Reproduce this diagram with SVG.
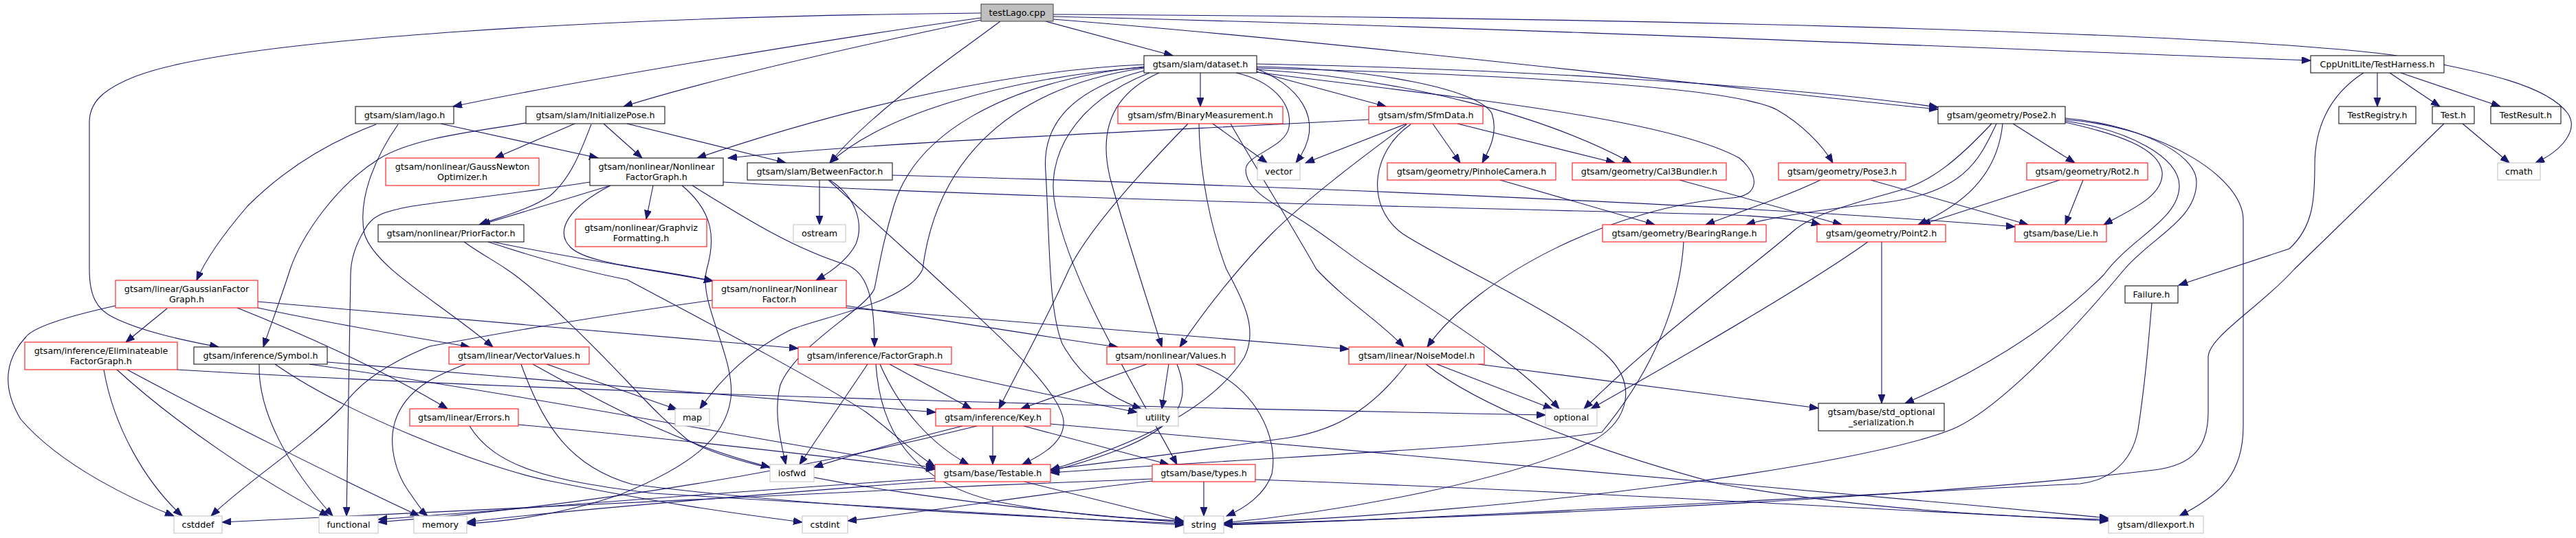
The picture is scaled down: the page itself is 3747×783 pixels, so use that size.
<svg xmlns="http://www.w3.org/2000/svg" width="3747" height="783" viewBox="0 0 3747 783">
<defs>
<style>
.n rect{fill:#fff;stroke:#000;stroke-width:1}
.n.r rect{stroke:#f00}
.n.g rect{stroke:#bfbfbf}
.n.root rect{fill:#bfbfbf;stroke:#404040}
text{font-family:"DejaVu Sans","Liberation Sans",sans-serif;font-size:12.7px;fill:#000;text-anchor:middle}
#edges path{fill:none;stroke:#191970;stroke-width:1.1;marker-end:url(#ah)}
</style>
<marker id="ah" markerUnits="userSpaceOnUse" markerWidth="14" markerHeight="11" refX="13" refY="5" orient="auto" viewBox="0 0 14 11">
<path d="M0,0 L13,5 L0,10 z" fill="#191970" stroke="#191970" stroke-width="1"/>
</marker>
</defs>
<rect width="3747" height="783" fill="#fff"/>
<g id="edges">
<path d="M1427,26 C1250,50 850,115 659,155"/>
<path d="M1427,29 C1280,60 1050,110 907,155"/>
<path d="M1521,31 L1706,81"/>
<path d="M1455,31 C1390,80 1270,160 1207,237"/>
<path d="M1427,19 C900,24 350,55 200,110 C148,130 130,150 130,178 L130,392 C130,430 140,450 165,462 C205,482 265,495 318,505"/>
<path d="M1532,28 C2000,65 2600,138 2819,159"/>
<path d="M1532,24 C2200,40 3000,75 3361,88"/>
<path d="M1532,21 C2300,25 3200,45 3480,80 C3620,105 3705,125 3735,165 C3752,190 3725,220 3688,237"/>
<path d="M641,180 L870,230"/>
<path d="M547,181 C470,210 410,250 360,300 C330,335 300,375 286,408"/>
<path d="M579,181 C545,230 520,290 530,340 C545,390 640,440 717,505"/>
<path d="M765,179 C700,190 600,200 550,232 C490,270 440,340 422,392 C410,430 395,470 383,505"/>
<path d="M836,180 L720,230"/>
<path d="M878,180 L934,230"/>
<path d="M912,180 L1143,237"/>
<path d="M860,181 C845,220 830,260 800,285 C770,305 730,315 697,327"/>
<path d="M1746,106 L1746,155"/>
<path d="M1664,94 C1480,102 1250,150 1014,230"/>
<path d="M1664,98 C1450,115 1280,170 1207,237"/>
<path d="M1827,104 L2016,155"/>
<path d="M1827,97 C2000,100 2150,130 2170,165 C2180,195 2165,220 2156,237"/>
<path d="M1827,101 C2050,115 2250,170 2373,237"/>
<path d="M1827,93 C2200,100 2600,125 2819,156"/>
<path d="M1827,99 C2250,110 2530,130 2585,160 C2620,180 2650,210 2666,237"/>
<path d="M1827,105 C2100,140 2420,170 2530,230 C2560,255 2560,285 2520,288 C2350,300 2150,400 2076,505"/>
<path d="M1686,106 C1610,140 1600,200 1615,260 C1640,350 1670,440 1690,505"/>
<path d="M1672,106 C1560,150 1520,230 1535,300 C1560,420 1650,560 1712,676"/>
<path d="M1664,103 C1560,130 1515,180 1521,250 C1527,350 1525,450 1545,500 C1575,555 1620,580 1660,595"/>
<path d="M1827,100 C1880,120 1935,170 1885,237"/>
<path d="M1664,99 C1450,130 1360,250 1342,392 C1320,440 1200,460 1150,480 C1090,510 1050,550 1018,595"/>
<path d="M1664,97 C1450,120 1330,200 1300,300 C1285,350 1280,380 1272,420 C1260,450 1160,500 1135,560 C1125,600 1135,640 1143,676"/>
<path d="M1798,106 C1850,118 1880,150 1875,185 C1870,215 1812,225 1812,247 C1812,275 1850,295 1875,310 C1920,335 1960,370 1995,392 C2080,450 2200,520 2268,595"/>
<path d="M1764,180 L1843,237"/>
<path d="M1790,180 C1830,250 1880,330 1915,392 C1960,440 2010,470 2042,505"/>
<path d="M1728,180 C1650,260 1580,340 1555,392 C1520,470 1480,540 1453,595"/>
<path d="M1744,180 C1745,250 1760,330 1784,392 C1810,440 1830,480 1810,520 C1760,600 1640,650 1528,684"/>
<path d="M1991,174 C1700,190 1300,205 1059,230"/>
<path d="M2046,180 L1899,237"/>
<path d="M2084,180 L2124,237"/>
<path d="M2120,180 L2349,237"/>
<path d="M2046,181 C1980,230 1900,290 1850,340 C1810,380 1760,440 1716,505"/>
<path d="M2052,181 C1995,220 1985,300 2040,340 C2100,380 2280,460 2340,520 C2380,560 2370,610 2320,640 C2200,700 1950,745 1780,761"/>
<path d="M2928,180 L3018,237"/>
<path d="M2913,180 C2905,260 2850,300 2790,327"/>
<path d="M2904,180 C2880,230 2860,280 2740,295 C2650,305 2580,315 2540,327"/>
<path d="M2897,180 C2850,230 2810,265 2760,278 C2700,295 2640,310 2610,335 C2560,380 2420,480 2304,595"/>
<path d="M3004,178 C3080,195 3140,215 3145,250 C3148,285 3100,305 3060,327"/>
<path d="M3004,176 C3100,190 3170,230 3170,270 C3170,320 3100,345 3060,400 C2980,480 2880,540 2771,587"/>
<path d="M3004,174 C3150,185 3263,260 3263,320 L3263,620 C3263,690 3230,720 3170,751"/>
<path d="M3004,172 C3100,180 3195,220 3195,265 C3195,320 3130,345 3090,392 C3000,500 2900,600 2839,625 C2700,680 2200,745 1780,762"/>
<path d="M3458,106 L3458,155"/>
<path d="M3476,106 L3549,155"/>
<path d="M3492,106 L3637,155"/>
<path d="M3438,106 C3385,140 3367,190 3367,240 C3367,290 3365,330 3330,362 L3169,415"/>
<path d="M3582,180 L3650,237"/>
<path d="M3555,180 L3337,392 C3290,445 3212,490 3212,520 L3212,600 C3212,660 3180,680 3125,685 C3000,700 2600,740 1780,763"/>
<path d="M3130,441 C3125,500 3120,560 3110,625 C3100,680 3060,700 3026,704 C2700,720 2100,755 1780,764"/>
<path d="M2996,262 L2795,327"/>
<path d="M3030,262 L3004,327"/>
<path d="M2648,262 C2600,285 2540,305 2481,327"/>
<path d="M2721,262 L2950,327"/>
<path d="M2182,262 L2407,327"/>
<path d="M2443,262 L2679,327"/>
<path d="M2737,352 L2737,587"/>
<path d="M2717,352 C2650,400 2500,490 2314,595"/>
<path d="M2449,352 C2445,420 2420,520 2330,629 C2200,650 1900,662 1528,688"/>
<path d="M950,270 L940,319"/>
<path d="M888,270 L700,327"/>
<path d="M858,265 C750,282 650,292 600,300 C555,308 540,315 530,335 C515,360 510,380 510,400 L504,751"/>
<path d="M888,270 C830,300 805,335 830,360 C855,385 950,390 1037,409"/>
<path d="M992,270 C1040,310 1040,350 1028,392 C1015,440 1070,520 1063,580 C1055,640 1000,680 904,719 C830,745 750,758 679,762"/>
<path d="M1007,270 C1080,315 1150,360 1230,385 C1260,395 1272,430 1272,505"/>
<path d="M1052,265 C1400,285 2000,300 2500,312 C2580,315 2620,320 2648,327"/>
<path d="M1192,262 L1192,327"/>
<path d="M1207,262 C1250,290 1255,330 1245,355 C1235,375 1215,392 1187,408"/>
<path d="M1298,255 C1700,265 2500,295 2931,330"/>
<path d="M1205,262 C1230,285 1280,330 1348,392 C1420,460 1540,560 1547,612 C1550,645 1510,665 1487,676"/>
<path d="M717,352 C800,370 900,385 1037,409"/>
<path d="M710,352 C780,375 850,395 912,407 C1050,480 1200,560 1260,600 C1300,630 1330,660 1360,679"/>
<path d="M675,352 C700,370 720,380 737,392 C780,420 860,500 916,559 C950,595 970,615 1000,640 C1100,700 1500,745 1722,760"/>
<path d="M243,449 L183,498"/>
<path d="M168,445 C100,460 50,475 38,490 C10,520 0,560 30,610 C90,680 200,730 253,751"/>
<path d="M375,439 C700,465 1000,492 1161,507"/>
<path d="M375,448 C500,475 600,490 683,505"/>
<path d="M345,448 C450,490 560,540 651,595"/>
<path d="M1036,437 C850,462 700,490 625,504 C560,530 520,560 498,592 C440,650 360,700 307,751"/>
<path d="M1231,445 C1400,470 1550,495 1626,505"/>
<path d="M1231,448 C1500,470 1800,495 1962,508"/>
<path d="M151,538 C165,620 210,700 265,751"/>
<path d="M170,538 C260,620 380,700 478,751"/>
<path d="M185,538 C300,600 500,700 610,751"/>
<path d="M258,538 C800,570 1500,590 2248,604"/>
<path d="M377,530 C375,600 420,680 484,751"/>
<path d="M476,527 C800,555 1100,580 1361,600"/>
<path d="M400,530 C500,600 700,680 800,700 C950,730 1050,745 1167,760"/>
<path d="M450,530 C800,580 1150,650 1360,681"/>
<path d="M677,530 C640,545 600,560 580,600 C560,640 575,690 598,720 C608,735 615,745 622,751"/>
<path d="M795,530 L985,596"/>
<path d="M775,530 C900,600 1000,650 1120,680"/>
<path d="M758,530 C790,620 830,680 920,705 C1200,740 1500,752 1722,762"/>
<path d="M683,620 C720,680 800,700 950,718 C1300,740 1550,752 1722,764"/>
<path d="M754,618 C1000,640 1200,665 1360,683"/>
<path d="M1294,530 L1413,595"/>
<path d="M1280,530 C1310,600 1360,650 1409,676"/>
<path d="M1274,530 C1280,620 1320,700 1450,730 C1550,750 1650,755 1722,758"/>
<path d="M1329,530 C1450,560 1550,580 1654,600"/>
<path d="M1262,530 L1163,676"/>
<path d="M1668,530 L1485,595"/>
<path d="M1700,530 L1690,595"/>
<path d="M1712,530 C1740,600 1700,640 1528,686"/>
<path d="M1740,530 C1830,560 1860,640 1850,690 C1840,720 1810,740 1784,751"/>
<path d="M1444,620 L1444,676"/>
<path d="M1400,620 C1300,645 1230,665 1184,680"/>
<path d="M1528,617 C1900,650 2500,700 3067,754"/>
<path d="M1489,620 L1700,676"/>
<path d="M1421,620 C1100,700 800,740 550,760"/>
<path d="M1490,701 L1722,759"/>
<path d="M1360,696 C1000,720 700,745 550,756"/>
<path d="M1360,700 C1100,720 800,745 679,760"/>
<path d="M1751,701 L1751,751"/>
<path d="M1676,697 C1200,715 700,740 323,760"/>
<path d="M1676,700 C1500,720 1350,745 1233,758"/>
<path d="M1826,698 C2300,715 2700,740 3067,758"/>
<path d="M2090,530 L2258,595"/>
<path d="M2046,530 C2000,590 1950,625 1875,637 C1750,655 1620,672 1528,683"/>
<path d="M2150,530 L2645,594"/>
<path d="M2074,530 C2150,590 2300,650 2500,704 C2700,740 2900,752 3067,756"/>
</g>
<g id="node-testLago" class="n root"><rect x="1427" y="6" width="105" height="25"/><text x="1479.5" y="23.3">testLago.cpp</text></g>
<g id="node-lago" class="n"><rect x="517" y="155" width="143" height="25"/><text x="588.5" y="172.3">gtsam/slam/lago.h</text></g>
<g id="node-InitializePose" class="n"><rect x="765" y="155" width="202" height="25"/><text x="866" y="172.3">gtsam/slam/InitializePose.h</text></g>
<g id="node-dataset" class="n"><rect x="1664" y="81" width="164" height="25"/><text x="1746" y="98.3">gtsam/slam/dataset.h</text></g>
<g id="node-BinaryMeasurement" class="n r"><rect x="1626" y="155" width="240" height="25"/><text x="1746" y="172.3">gtsam/sfm/BinaryMeasurement.h</text></g>
<g id="node-SfmData" class="n r"><rect x="1991" y="155" width="166" height="25"/><text x="2074" y="172.3">gtsam/sfm/SfmData.h</text></g>
<g id="node-Pose2" class="n"><rect x="2819" y="155" width="185" height="25"/><text x="2911.5" y="172.3">gtsam/geometry/Pose2.h</text></g>
<g id="node-TestHarness" class="n"><rect x="3361" y="81" width="194" height="25"/><text x="3458" y="98.3">CppUnitLite/TestHarness.h</text></g>
<g id="node-TestRegistry" class="n"><rect x="3402" y="155" width="112" height="25"/><text x="3458" y="172.3">TestRegistry.h</text></g>
<g id="node-Test" class="n"><rect x="3538" y="155" width="61" height="25"/><text x="3568.5" y="172.3">Test.h</text></g>
<g id="node-TestResult" class="n"><rect x="3623" y="155" width="102" height="25"/><text x="3674" y="172.3">TestResult.h</text></g>
<g id="node-cmath" class="n g"><rect x="3633" y="237" width="62" height="25"/><text x="3664" y="254.3">cmath</text></g>
<g id="node-Failure" class="n"><rect x="3091" y="416" width="77" height="25"/><text x="3129.5" y="433.3">Failure.h</text></g>
<g id="node-GaussNewton" class="n r"><rect x="561" y="230" width="223" height="40"/><text x="672.5" y="247">gtsam/nonlinear/GaussNewton</text><text x="672.5" y="262">Optimizer.h</text></g>
<g id="node-NonlinearFactorGraph" class="n"><rect x="858" y="230" width="194" height="40"/><text x="955" y="247">gtsam/nonlinear/Nonlinear</text><text x="955" y="262">FactorGraph.h</text></g>
<g id="node-BetweenFactor" class="n"><rect x="1087" y="237" width="211" height="25"/><text x="1192.5" y="254.3">gtsam/slam/BetweenFactor.h</text></g>
<g id="node-vector" class="n g"><rect x="1829" y="237" width="62" height="25"/><text x="1860" y="254.3">vector</text></g>
<g id="node-PinholeCamera" class="n r"><rect x="2018" y="237" width="245" height="25"/><text x="2140.5" y="254.3">gtsam/geometry/PinholeCamera.h</text></g>
<g id="node-Cal3Bundler" class="n r"><rect x="2287" y="237" width="224" height="25"/><text x="2399" y="254.3">gtsam/geometry/Cal3Bundler.h</text></g>
<g id="node-Pose3" class="n r"><rect x="2587" y="237" width="185" height="25"/><text x="2679.5" y="254.3">gtsam/geometry/Pose3.h</text></g>
<g id="node-Rot2" class="n r"><rect x="2948" y="237" width="176" height="25"/><text x="3036" y="254.3">gtsam/geometry/Rot2.h</text></g>
<g id="node-PriorFactor" class="n"><rect x="550" y="327" width="212" height="25"/><text x="656" y="344.3">gtsam/nonlinear/PriorFactor.h</text></g>
<g id="node-GraphvizFormatting" class="n r"><rect x="837" y="319" width="191" height="40"/><text x="932.5" y="336">gtsam/nonlinear/Graphviz</text><text x="932.5" y="351">Formatting.h</text></g>
<g id="node-ostream" class="n g"><rect x="1154" y="327" width="76" height="25"/><text x="1192" y="344.3">ostream</text></g>
<g id="node-BearingRange" class="n r"><rect x="2331" y="327" width="238" height="25"/><text x="2450" y="344.3">gtsam/geometry/BearingRange.h</text></g>
<g id="node-Point2" class="n r"><rect x="2643" y="327" width="187" height="25"/><text x="2736.5" y="344.3">gtsam/geometry/Point2.h</text></g>
<g id="node-Lie" class="n r"><rect x="2931" y="327" width="133" height="25"/><text x="2997.5" y="344.3">gtsam/base/Lie.h</text></g>
<g id="node-GaussianFactorGraph" class="n r"><rect x="168" y="408" width="207" height="40"/><text x="271.5" y="425">gtsam/linear/GaussianFactor</text><text x="271.5" y="440">Graph.h</text></g>
<g id="node-NonlinearFactor" class="n r"><rect x="1036" y="408" width="195" height="40"/><text x="1133.5" y="425">gtsam/nonlinear/Nonlinear</text><text x="1133.5" y="440">Factor.h</text></g>
<g id="node-EliminateableFactorGraph" class="n r"><rect x="36" y="498" width="222" height="40"/><text x="147" y="515">gtsam/inference/Eliminateable</text><text x="147" y="530">FactorGraph.h</text></g>
<g id="node-Symbol" class="n"><rect x="282" y="505" width="194" height="25"/><text x="379" y="522.3">gtsam/inference/Symbol.h</text></g>
<g id="node-VectorValues" class="n r"><rect x="653" y="505" width="204" height="25"/><text x="755" y="522.3">gtsam/linear/VectorValues.h</text></g>
<g id="node-FactorGraph" class="n r"><rect x="1161" y="505" width="223" height="25"/><text x="1272.5" y="522.3">gtsam/inference/FactorGraph.h</text></g>
<g id="node-Values" class="n r"><rect x="1610" y="505" width="186" height="25"/><text x="1703" y="522.3">gtsam/nonlinear/Values.h</text></g>
<g id="node-NoiseModel" class="n r"><rect x="1962" y="505" width="197" height="25"/><text x="2060.5" y="522.3">gtsam/linear/NoiseModel.h</text></g>
<g id="node-Errors" class="n r"><rect x="596" y="595" width="158" height="25"/><text x="675" y="612.3">gtsam/linear/Errors.h</text></g>
<g id="node-map" class="n g"><rect x="982" y="595" width="50" height="25"/><text x="1007" y="612.3">map</text></g>
<g id="node-Key" class="n r"><rect x="1361" y="595" width="167" height="25"/><text x="1444.5" y="612.3">gtsam/inference/Key.h</text></g>
<g id="node-utility" class="n g"><rect x="1654" y="595" width="60" height="25"/><text x="1684" y="612.3">utility</text></g>
<g id="node-optional" class="n g"><rect x="2248" y="595" width="75" height="25"/><text x="2285.5" y="612.3">optional</text></g>
<g id="node-std_optional_serialization" class="n"><rect x="2645" y="587" width="183" height="40"/><text x="2736.5" y="604">gtsam/base/std_optional</text><text x="2736.5" y="619">_serialization.h</text></g>
<g id="node-iosfwd" class="n g"><rect x="1120" y="676" width="64" height="25"/><text x="1152" y="693.3">iosfwd</text></g>
<g id="node-Testable" class="n r"><rect x="1360" y="676" width="168" height="25"/><text x="1444" y="693.3">gtsam/base/Testable.h</text></g>
<g id="node-types" class="n r"><rect x="1676" y="676" width="150" height="25"/><text x="1751" y="693.3">gtsam/base/types.h</text></g>
<g id="node-cstddef" class="n g"><rect x="253" y="751" width="70" height="25"/><text x="288" y="768.3">cstddef</text></g>
<g id="node-functional" class="n g"><rect x="464" y="751" width="86" height="25"/><text x="507" y="768.3">functional</text></g>
<g id="node-memory" class="n g"><rect x="602" y="751" width="77" height="25"/><text x="640.5" y="768.3">memory</text></g>
<g id="node-cstdint" class="n g"><rect x="1167" y="751" width="66" height="25"/><text x="1200" y="768.3">cstdint</text></g>
<g id="node-string" class="n g"><rect x="1722" y="751" width="58" height="25"/><text x="1751" y="768.3">string</text></g>
<g id="node-dllexport" class="n g"><rect x="3067" y="751" width="138" height="25"/><text x="3136" y="768.3">gtsam/dllexport.h</text></g>
</svg>
